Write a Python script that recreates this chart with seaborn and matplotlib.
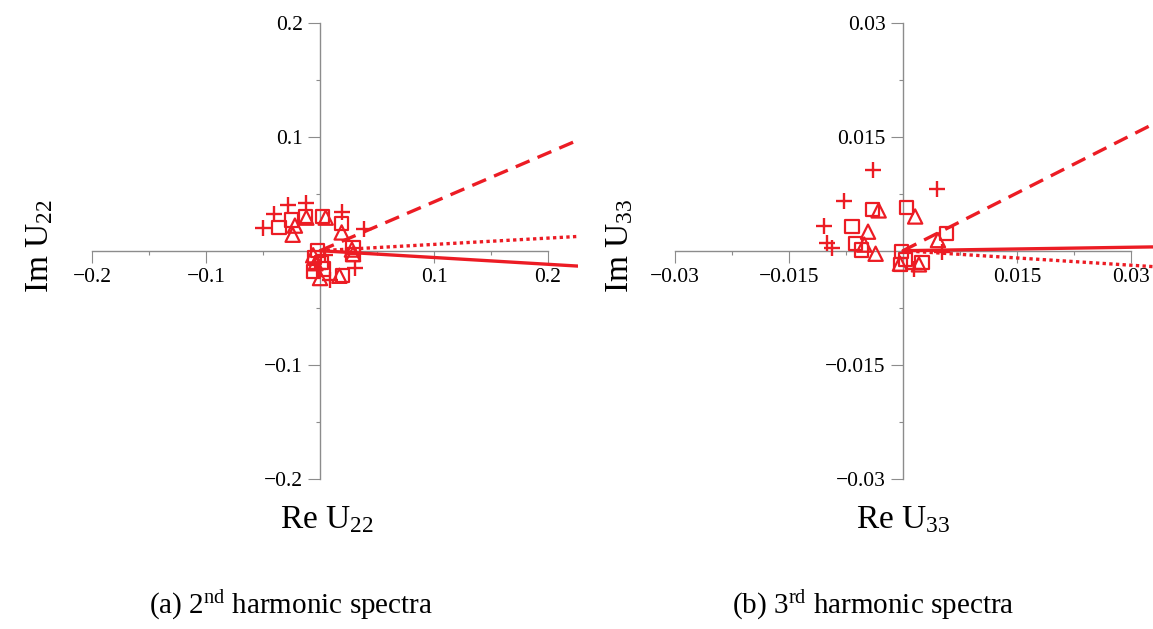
import matplotlib
matplotlib.use("Agg")
import matplotlib.pyplot as plt
import seaborn as sns
from matplotlib.ticker import FixedLocator

sns.set_theme(style="white")
plt.rcParams["font.family"] = ["Liberation Serif", "DejaVu Serif"]
plt.rcParams["mathtext.default"] = "regular"
plt.rcParams["axes.unicode_minus"] = True
plt.rcParams["text.color"] = "black"

RED = "#EC1C24"
GRAY = "#8c8c8c"

# ---------------- data: panel (a), 2nd harmonic ----------------
a_line_x = [0.0, 0.2263]
a_dashed_y = [0.0, 0.097]
a_dotted_y = [0.0, 0.0125]
a_solid_y = [0.0, -0.0135]

a_plus_x = [-0.050, -0.040, -0.028, -0.012, 0.019, 0.039, 0.031, 0.009, 0.004, -0.002]
a_plus_y = [0.020, 0.032, 0.040, 0.042, 0.034, 0.019, -0.015, -0.026, -0.004, -0.016]
a_square_x = [-0.036, -0.025, -0.013, 0.002, 0.019, 0.029, 0.029, 0.020, 0.003, -0.005, -0.006, -0.002, 0.001]
a_square_y = [0.020, 0.027, 0.030, 0.030, 0.024, 0.003, -0.003, -0.022, -0.016, -0.006, -0.018, 0.000, -0.010]
a_tri_x = [-0.024, -0.022, -0.012, 0.005, 0.019, 0.029, 0.017, 0.000, -0.004, -0.006, 0.028]
a_tri_y = [0.014, 0.022, 0.029, 0.029, 0.016, -0.003, -0.022, -0.024, -0.011, -0.004, 0.001]

a_major = [-0.2, -0.1, 0.1, 0.2]
a_minor = [-0.15, -0.05, 0.05, 0.15]
a_labels = ["\u22120.2", "\u22120.1", "0.1", "0.2"]

# ---------------- data: panel (b), 3rd harmonic ----------------
b_line_x = [0.0, 0.0330]
b_dashed_y = [0.0, 0.0167]
b_dotted_y = [0.0, -0.0021]
b_solid_y = [0.0, 0.0005]

b_plus_x = [-0.0039, -0.0077, -0.0104, -0.0100, -0.0093, 0.0045, 0.0051, 0.0014]
b_plus_y = [0.0106, 0.0065, 0.0032, 0.0010, 0.0003, 0.0081, -0.0002, -0.0024]
b_square_x = [-0.0067, -0.0040, 0.0005, -0.0063, -0.0055, 0.0057, 0.0025, -0.0002, 0.0003, -0.0003]
b_square_y = [0.0032, 0.0054, 0.0057, 0.0009, 0.0001, 0.0023, -0.0015, -0.0001, -0.0012, -0.0018]
b_tri_x = [-0.0032, 0.0016, -0.0046, -0.0051, -0.0036, 0.0046, 0.0021, -0.0004]
b_tri_y = [0.0053, 0.0045, 0.0025, 0.0008, -0.0004, 0.0014, -0.0018, -0.0017]

b_major = [-0.03, -0.015, 0.015, 0.03]
b_minor = [-0.0225, -0.0075, 0.0075, 0.0225]
b_labels = ["\u22120.03", "\u22120.015", "0.015", "0.03"]

W, H = 1153, 629
fig = plt.figure(figsize=(W / 100, H / 100), dpi=100)
fig.patch.set_facecolor("white")
axA = fig.add_axes([92 / W, 1 - 478.7 / H, 486 / W, 456 / H])
axB = fig.add_axes([675 / W, 1 - 478.7 / H, 478 / W, 456 / H])


def draw(ax, lx, dashed, dotted, solid, px, py, sx, sy, tx, ty,
         xlim, ylim, major, minor, labels):
    ax.set_facecolor("none")
    sns.lineplot(x=lx, y=dashed, ax=ax, color=RED, linewidth=2.4,
                 linestyle=(0, (4.5, 2.6)), sort=False, estimator=None)
    sns.lineplot(x=lx, y=dotted, ax=ax, color=RED, linewidth=2.4,
                 linestyle=(0, (1.0, 1.0)), sort=False, estimator=None)
    sns.lineplot(x=lx, y=solid, ax=ax, color=RED, linewidth=2.4,
                 linestyle="-", sort=False, estimator=None)
    sns.scatterplot(x=px, y=py, ax=ax, marker="+", s=125, color=RED,
                    linewidth=1.7, zorder=3)
    sns.scatterplot(x=sx, y=sy, ax=ax, marker="s", s=90, facecolor="none",
                    edgecolor=RED, linewidth=1.6, zorder=3)
    sns.scatterplot(x=tx, y=ty, ax=ax, marker="^", s=105, facecolor="none",
                    edgecolor=RED, linewidth=1.6, zorder=3)
    ax.set_xlim(*xlim)
    ax.set_ylim(*ylim)
    ax.set_xlabel("")
    ax.set_ylabel("")
    ax.grid(False)
    for side in ("top", "right"):
        ax.spines[side].set_visible(False)
    for side in ("left", "bottom"):
        ax.spines[side].set_position(("data", 0))
        ax.spines[side].set_color(GRAY)
        ax.spines[side].set_linewidth(1.0)
        ax.spines[side].set_zorder(1)
    ax.spines["bottom"].set_bounds(major[0], major[-1])
    ax.spines["left"].set_bounds(major[0], major[-1])
    for axis in (ax.xaxis, ax.yaxis):
        axis.set_major_locator(FixedLocator(major))
        axis.set_minor_locator(FixedLocator(minor))
        axis.set_ticklabels(labels)
    ax.tick_params(which="major", direction="out", length=8.6, width=0.8,
                   color=GRAY, labelsize=15.5, pad=4, labelcolor="black",
                   bottom=True, left=True)
    ax.tick_params(which="minor", direction="out", length=3, width=0.8,
                   color=GRAY, bottom=True, left=True)


draw(axA, a_line_x, a_dashed_y, a_dotted_y, a_solid_y,
     a_plus_x, a_plus_y, a_square_x, a_square_y, a_tri_x, a_tri_y,
     (-0.2, 0.2263), (-0.2, 0.2), a_major, a_minor, a_labels)
draw(axB, b_line_x, b_dashed_y, b_dotted_y, b_solid_y,
     b_plus_x, b_plus_y, b_square_x, b_square_y, b_tri_x, b_tri_y,
     (-0.03, 0.0329), (-0.03, 0.03), b_major, b_minor, b_labels)

fig.text(327 / W, 1 - 520 / H, "Re U$_{22}$", ha="center", va="center", fontsize=24, color="black")
fig.text(40 / W, 1 - 246 / H, "Im U$_{22}$", ha="center", va="center", fontsize=24, rotation=90, color="black")
fig.text(903 / W, 1 - 520 / H, "Re U$_{33}$", ha="center", va="center", fontsize=24, color="black")
fig.text(620 / W, 1 - 246 / H, "Im U$_{33}$", ha="center", va="center", fontsize=24, rotation=90, color="black")
fig.text(291 / W, 1 - 605 / H, "(a) 2$^{nd}$ harmonic spectra", ha="center", va="center", fontsize=21, color="black")
fig.text(873 / W, 1 - 605 / H, "(b) 3$^{rd}$ harmonic spectra", ha="center", va="center", fontsize=21, color="black")

fig.savefig("out.png", dpi=100, facecolor="white")
